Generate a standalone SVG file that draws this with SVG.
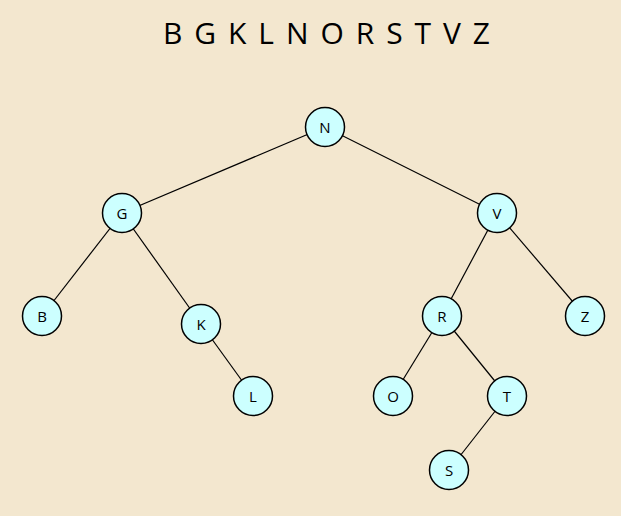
<svg xmlns="http://www.w3.org/2000/svg" width="621" height="516" viewBox="0 0 621 516">
<style>
.node circle{fill:#ccffff;stroke:#000;stroke-width:1.5}
.node text{font-family:"Open Sans","DejaVu Sans",sans-serif;font-size:15px;text-anchor:middle;dominant-baseline:central;fill:#000}
#edges line{stroke:#000;stroke-width:1.2}
.title{font-family:"Open Sans","DejaVu Sans",sans-serif;font-size:30px;fill:#000}
</style>
<rect width="621" height="516" fill="#f3e7cf"/>
<text class="title" x="163" y="44" textLength="327" lengthAdjust="spacing">B G K L N O R S T V Z</text>
<g id="edges">
<line x1="325" y1="127" x2="122" y2="213"/>
<line x1="325" y1="127" x2="497" y2="213"/>
<line x1="122" y1="213" x2="42" y2="316"/>
<line x1="122" y1="213" x2="201" y2="324"/>
<line x1="201" y1="324" x2="253" y2="396"/>
<line x1="497" y1="213" x2="442" y2="316"/>
<line x1="497" y1="213" x2="585" y2="316"/>
<line x1="442" y1="316" x2="393" y2="396"/>
<line x1="442" y1="316" x2="507" y2="396"/>
<line x1="507" y1="396" x2="449" y2="470"/>
</g>
<g id="node-N" class="node"><circle cx="325" cy="127" r="19.5"/><text x="325" y="127">N</text></g>
<g id="node-G" class="node"><circle cx="122" cy="213" r="19.5"/><text x="122" y="213">G</text></g>
<g id="node-V" class="node"><circle cx="497" cy="213" r="19.5"/><text x="497" y="213">V</text></g>
<g id="node-B" class="node"><circle cx="42" cy="316" r="19.5"/><text x="42" y="316">B</text></g>
<g id="node-K" class="node"><circle cx="201" cy="324" r="19.5"/><text x="201" y="324">K</text></g>
<g id="node-L" class="node"><circle cx="253" cy="396" r="19.5"/><text x="253" y="396">L</text></g>
<g id="node-R" class="node"><circle cx="442" cy="316" r="19.5"/><text x="442" y="316">R</text></g>
<g id="node-Z" class="node"><circle cx="585" cy="316" r="19.5"/><text x="585" y="316">Z</text></g>
<g id="node-O" class="node"><circle cx="393" cy="396" r="19.5"/><text x="393" y="396">O</text></g>
<g id="node-T" class="node"><circle cx="507" cy="396" r="19.5"/><text x="507" y="396">T</text></g>
<g id="node-S" class="node"><circle cx="449" cy="470" r="19.5"/><text x="449" y="470">S</text></g>
</svg>
